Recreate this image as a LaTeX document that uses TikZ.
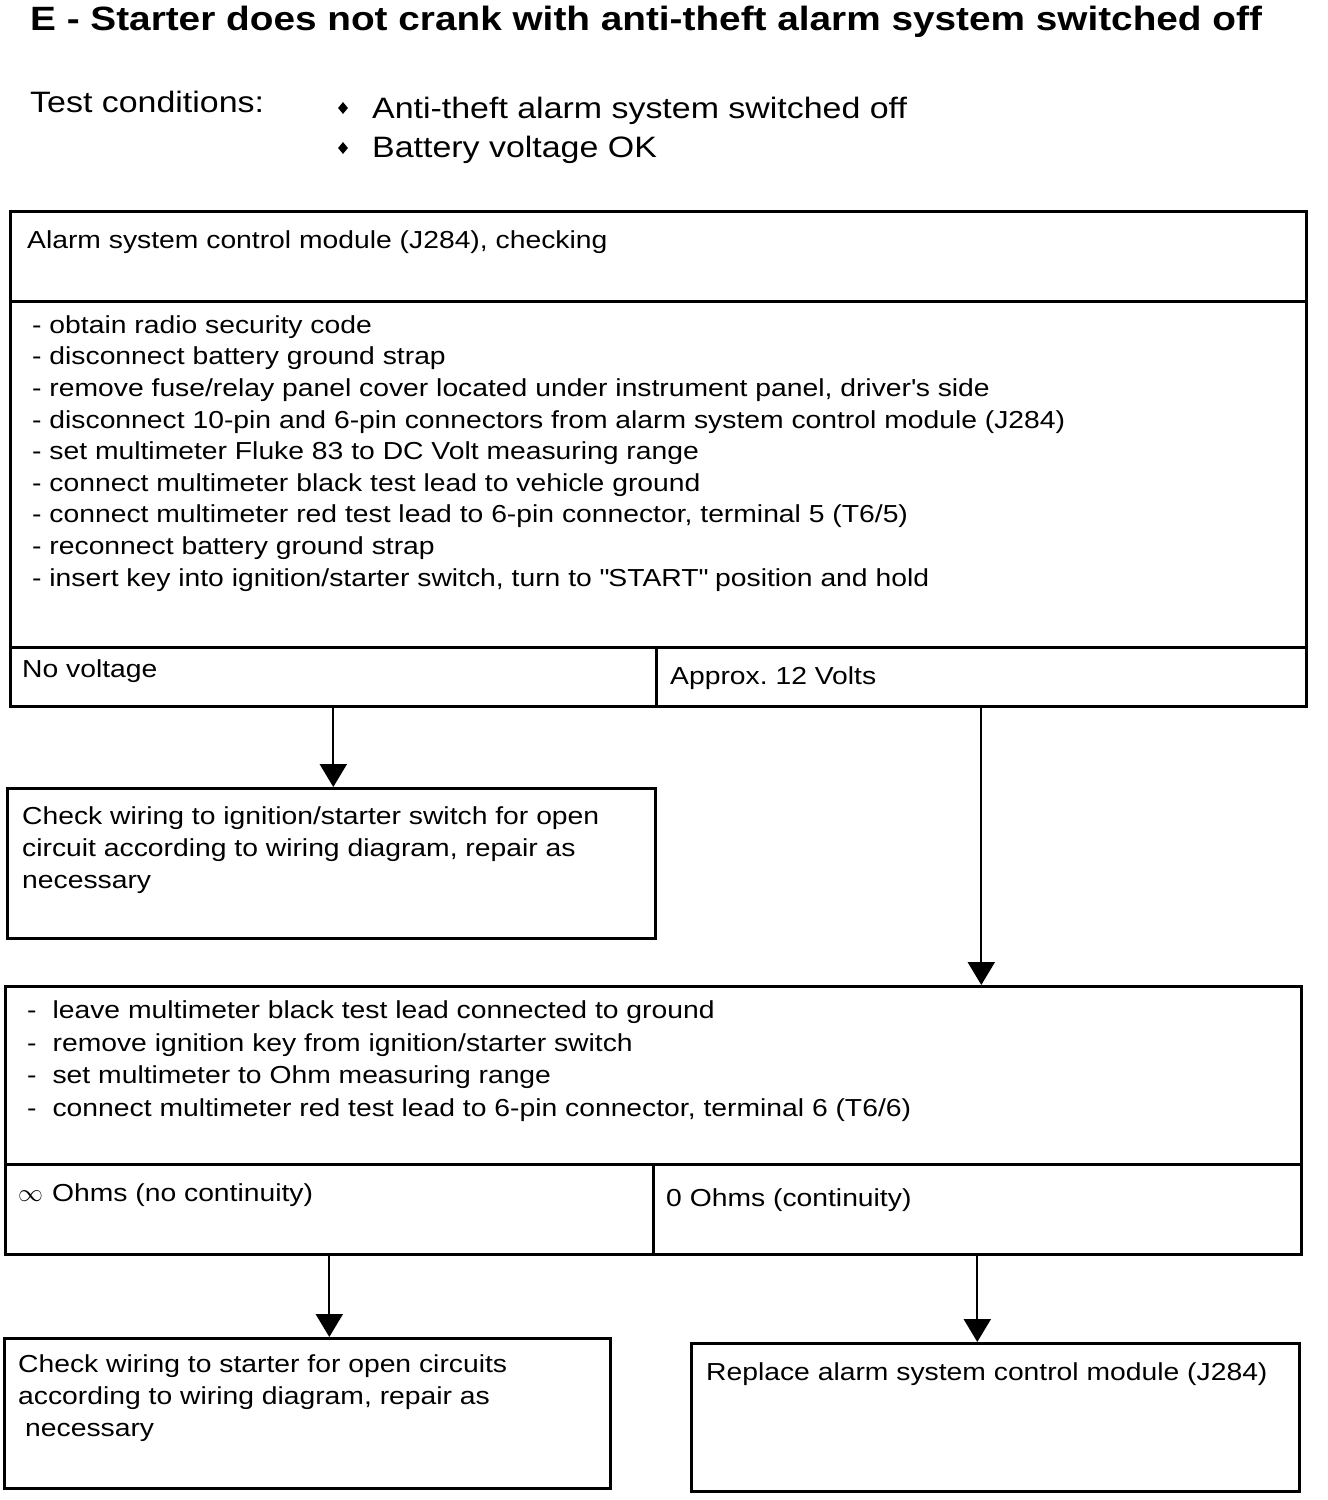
\documentclass[tikz,border=0pt]{standalone}
\usepackage{fontspec}
\setmainfont{Liberation Sans}[FakeStretch=1.15]
\usetikzlibrary{arrows.meta,shapes.geometric}
\frenchspacing
\tikzset{
  box/.style={draw=black, line width=2.6pt, rectangle, inner sep=0pt, anchor=north west},
  txt/.style={anchor=base west, inner sep=0pt, align=left, font=\fontsize{24.6}{31.6}\selectfont},
  txtb/.style={anchor=base west, inner sep=0pt, align=left, font=\fontsize{24.6}{32.5}\selectfont},
  flow/.style={line width=2.2pt, -{Triangle[width=27pt,length=23pt]}},
  bul/.style={diamond, fill=black, inner sep=0pt, minimum width=10pt, minimum height=12pt}
}
\newcommand{\bx}[5]{\node[box, minimum width=#4pt, minimum height=#5pt] (#1) at (#2,#3) {};}
\begin{document}
\begin{tikzpicture}[x=1pt,y=-1pt]
\useasboundingbox (0,0) rectangle (1328,1500);
% title and test conditions
\node[anchor=base west, inner sep=0pt, font=\fontsize{33.7}{38}\selectfont\bfseries] (title) at (30,30) {E - Starter does not crank with anti-theft alarm system switched off};
\node[anchor=base west, inner sep=0pt, font=\fontsize{29.5}{34}\selectfont] (tc) at (30,112) {Test conditions:};
\node[bul] (b1) at (343,108) {};
\node[bul] (b2) at (343,148) {};
\node[anchor=base west, inner sep=0pt, font=\fontsize{29.5}{34}\selectfont] (c1) at (372,118) {Anti-theft alarm system switched off};
\node[anchor=base west, inner sep=0pt, font=\fontsize{29.5}{34}\selectfont] (c2) at (372,157) {Battery voltage OK};
% boxes
\bx{hdr}{9}{210}{1296}{90}
\bx{body1}{9}{300}{1296}{346}
\bx{nov}{9}{646}{646}{59}
\bx{v12}{655}{646}{650}{59}
\bx{chk1}{6}{787}{648}{150}
\bx{body3}{4}{985}{1296}{178}
\bx{inf}{4}{1163}{648}{90}
\bx{zero}{652}{1163}{648}{90}
\bx{chk2}{3}{1337}{606}{150}
\bx{repl}{690}{1342}{608}{148}
% texts (multi-line nodes: base = last line)
\node[txt] (thdr) at (27,248) {Alarm system control module (J284), checking};
\node[txt] (tbody1) at (32,586) {- obtain radio security code\\
- disconnect battery ground strap\\
- remove fuse/relay panel cover located under instrument panel, driver\textquotesingle s side\\
- disconnect 10-pin and 6-pin connectors from alarm system control module (J284)\\
- set multimeter Fluke 83 to DC Volt measuring range\\
- connect multimeter black test lead to vehicle ground\\
- connect multimeter red test lead to 6-pin connector, terminal 5 (T6/5)\\
- reconnect battery ground strap\\
- insert key into ignition/starter switch, turn to \textquotedbl START\textquotedbl\ position and hold};
\node[txt] (tnov) at (22,677) {No voltage};
\node[txt] (tv12) at (670,684) {Approx. 12 Volts};
\node[txt] (tchk1) at (22,888) {Check wiring to ignition/starter switch for open\\circuit according to wiring diagram, repair as\\necessary};
\node[txtb] (tbody3) at (27,1116) {-\hspace{16pt}leave multimeter black test lead connected to ground\\
-\hspace{16pt}remove ignition key from ignition/starter switch\\
-\hspace{16pt}set multimeter to Ohm measuring range\\
-\hspace{16pt}connect multimeter red test lead to 6-pin connector, terminal 6 (T6/6)};
\node[txt] (tinf) at (18,1201) {{\fontsize{24}{24}\selectfont$\infty$}\hspace{9pt}Ohms (no continuity)};
\node[txt] (tzero) at (666,1206) {0 Ohms (continuity)};
\node[txt] (tchk2) at (18,1436) {Check wiring to starter for open circuits\\according to wiring diagram, repair as\\\hspace{7pt}necessary};
\node[txt] (trepl) at (706,1380) {Replace alarm system control module (J284)};
% connectors
\draw[flow] (nov.south) -- (nov.south |- chk1.north);
\draw[flow] (v12.south) -- (v12.south |- body3.north);
\draw[flow] (inf.south) -- (inf.south |- chk2.north);
\draw[flow] (zero.south) -- (zero.south |- repl.north);
\end{tikzpicture}
\end{document}
